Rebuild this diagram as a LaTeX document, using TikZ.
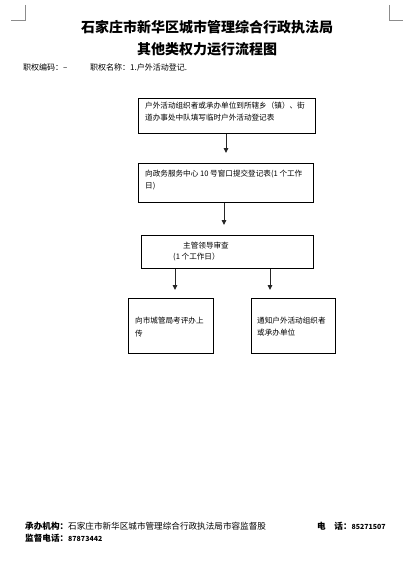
\documentclass[tikz,border=0pt]{standalone}
\usepackage{fontspec}
\setmainfont{Noto Sans CJK SC}
\usetikzlibrary{arrows.meta}
\begin{document}
\begin{tikzpicture}[x=1pt,y=-1pt,
  box/.style={draw=black, line width=0.8pt, anchor=north west, inner sep=0pt},
  txt/.style={anchor=base west, inner sep=0pt, font=\fontsize{7.6}{9}\selectfont},
  hdr/.style={anchor=base west, inner sep=0pt, font=\fontsize{8}{9}\selectfont},
  ftr/.style={anchor=base west, inner sep=0pt, font=\fontsize{8.6}{10}\selectfont},
  ttl/.style={inner sep=0pt, font=\bfseries\fontsize{14}{16}\selectfont},
  arr/.style={draw=black!85, line width=1pt, -{Triangle[width=4.6pt,length=5pt]}},
  cropmark/.style={draw=black!45, line width=0.6pt}
]
\useasboundingbox (0,0) rectangle (415,567);
% crop marks
\coordinate (cl) at (25,20);
\coordinate (cr) at (389,20);
\draw[cropmark] (25,5) -- (cl) -- (11,20);
\draw[cropmark] (389,5) -- (cr) -- (403,20);
% titles
\node[ttl] (t1) at (207,27) {石家庄市新华区城市管理综合行政执法局};
\node[ttl] (t2) at (207,49) {其他类权力运行流程图};
\node[hdr] (h1) at (23,71) {职权编码：–};
\node[hdr] (h2) at (90,71) {职权名称：1.户外活动登记.};
% boxes
\node[box, minimum width=177pt, minimum height=35pt] (b1) at (138,98) {};
\node[box, minimum width=175pt, minimum height=39pt] (b2) at (138,163) {};
\node[box, minimum width=172pt, minimum height=33pt] (b3) at (141,235) {};
\node[box, minimum width=85pt, minimum height=55pt] (b4) at (128,298) {};
\node[box, minimum width=84pt, minimum height=55pt] (b5) at (251,298) {};
% box texts
\node[txt] (b1a) at (145,109) {户外活动组织者或承办单位到所辖乡（镇）、街};
\node[txt] (b1b) at (145,121) {道办事处中队填写临时户外活动登记表};
\node[txt] (b2a) at (145,176) {向政务服务中心 10 号窗口提交登记表(1 个工作};
\node[txt] (b2b) at (145,188) {日)};
\node[txt] (b3a) at (183,248) {主管领导审查};
\node[txt] (b3b) at (173,259) {(1 个工作日）};
\node[txt] (b4a) at (135,323) {向市城管局考评办上};
\node[txt] (b4b) at (135,336) {传};
\node[txt] (b5a) at (257,323) {通知户外活动组织者};
\node[txt] (b5b) at (257,335) {或承办单位};
% arrows
\draw[arr, shorten >=10pt] (b1.south -| 226,0) -- (b2.north -| 226,0);
\draw[arr, shorten >=10pt] (b2.south -| 224,0) -- (b3.north -| 224,0);
\draw[arr, shorten >=8pt] (b3.south -| 175,0) -- (b4.north -| 175,0);
\draw[arr, shorten >=8pt] (b3.south -| 270,0) -- (b5.north -| 270,0);
% footer
\node[ftr] (f1) at (25,529) {{\bfseries 承办机构：}石家庄市新华区城市管理综合行政执法局市容监督股};
\node[ftr] (f2) at (317,529) {{\bfseries 电\quad 话：}{\bfseries\fontsize{7}{8}\selectfont 85271507}};
\node[ftr] (f3) at (25,541) {{\bfseries 监督电话：}{\bfseries\fontsize{7}{8}\selectfont 87873442}};
\end{tikzpicture}
\end{document}
